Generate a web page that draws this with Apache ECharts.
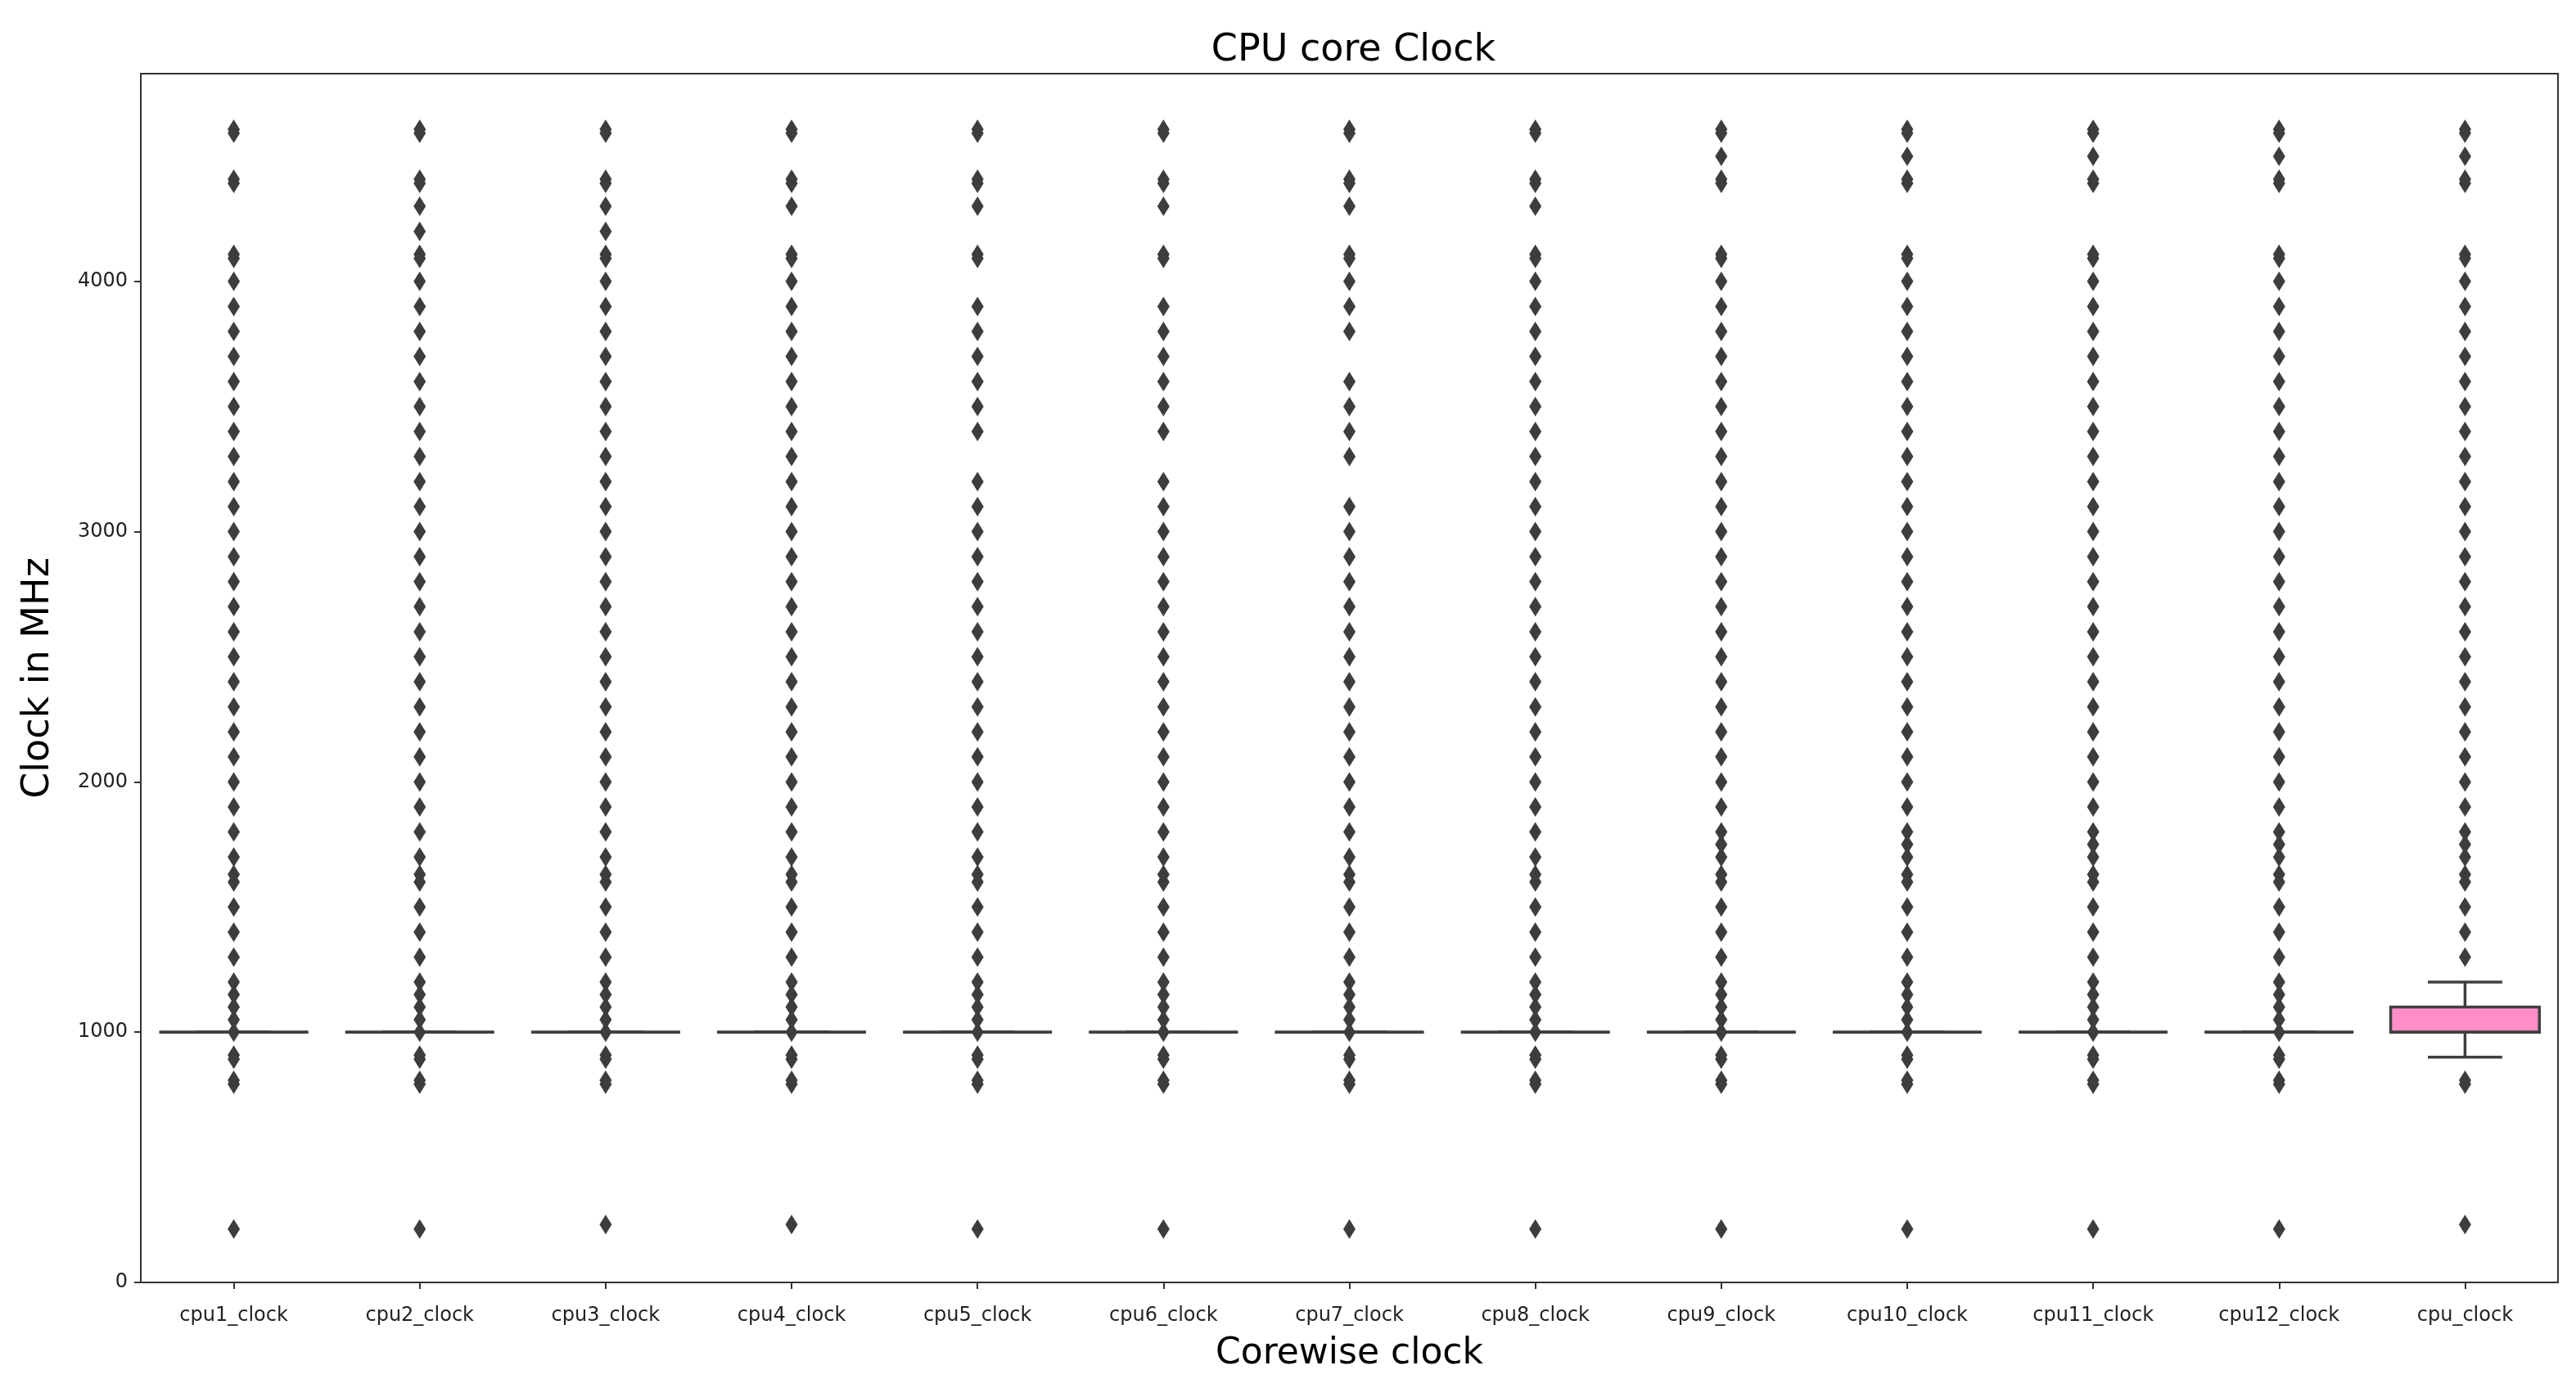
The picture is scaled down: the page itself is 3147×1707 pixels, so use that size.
<!DOCTYPE html>
<html>
<head>
<meta charset="utf-8">
<script src="https://cdn.jsdelivr.net/npm/echarts@6/dist/echarts.min.js"></script>
<style>
html,body{margin:0;padding:0;background:#fff;}
#chart{width:3147px;height:1707px;}
</style>
</head>
<body>
<div id="chart"></div>
<script>
// ---- categories ----
const categories = ['cpu1_clock','cpu2_clock','cpu3_clock','cpu4_clock','cpu5_clock','cpu6_clock','cpu7_clock','cpu8_clock','cpu9_clock','cpu10_clock','cpu11_clock','cpu12_clock','cpu_clock'];

// ---- box statistics: [min, Q1, median, Q3, max] ----
const boxStats = [
  [1000,1000,1000,1000,1000],
  [1000,1000,1000,1000,1000],
  [1000,1000,1000,1000,1000],
  [1000,1000,1000,1000,1000],
  [1000,1000,1000,1000,1000],
  [1000,1000,1000,1000,1000],
  [1000,1000,1000,1000,1000],
  [1000,1000,1000,1000,1000],
  [1000,1000,1000,1000,1000],
  [1000,1000,1000,1000,1000],
  [1000,1000,1000,1000,1000],
  [1000,1000,1000,1000,1000],
  [900,1000,1000,1100,1200]
];

// ---- outliers per category (MHz) ----
const cpu1Outliers = [4608,4592,4408,4392,4108,4092,4000,3900,3800,3700,3600,3500,3400,3300,3200,3100,3000,2900,2800,2700,2600,2500,2400,2300,2200,2100,2000,1900,1800,1700,1630,1600,1500,1400,1300,1200,1150,1100,1050,1000,908,892,808,792,213];
const cpu2Outliers = [4608,4592,4408,4392,4300,4200,4108,4092,4000,3900,3800,3700,3600,3500,3400,3300,3200,3100,3000,2900,2800,2700,2600,2500,2400,2300,2200,2100,2000,1900,1800,1700,1630,1600,1500,1400,1300,1200,1150,1100,1050,1000,908,892,808,792,213];
const cpu3Outliers = [4608,4592,4408,4392,4300,4200,4108,4092,4000,3900,3800,3700,3600,3500,3400,3300,3200,3100,3000,2900,2800,2700,2600,2500,2400,2300,2200,2100,2000,1900,1800,1700,1630,1600,1500,1400,1300,1200,1150,1100,1050,1000,908,892,808,792,231];
const cpu4Outliers = [4608,4592,4408,4392,4300,4108,4092,4000,3900,3800,3700,3600,3500,3400,3300,3200,3100,3000,2900,2800,2700,2600,2500,2400,2300,2200,2100,2000,1900,1800,1700,1630,1600,1500,1400,1300,1200,1150,1100,1050,1000,908,892,808,792,231];
const cpu5Outliers = [4608,4592,4408,4392,4300,4108,4092,3900,3800,3700,3600,3500,3400,3200,3100,3000,2900,2800,2700,2600,2500,2400,2300,2200,2100,2000,1900,1800,1700,1630,1600,1500,1400,1300,1200,1150,1100,1050,1000,908,892,808,792,213];
const cpu6Outliers = [4608,4592,4408,4392,4300,4108,4092,3900,3800,3700,3600,3500,3400,3200,3100,3000,2900,2800,2700,2600,2500,2400,2300,2200,2100,2000,1900,1800,1700,1630,1600,1500,1400,1300,1200,1150,1100,1050,1000,908,892,808,792,213];
const cpu7Outliers = [4608,4592,4408,4392,4300,4108,4092,4000,3900,3800,3600,3500,3400,3300,3100,3000,2900,2800,2700,2600,2500,2400,2300,2200,2100,2000,1900,1800,1700,1630,1600,1500,1400,1300,1200,1150,1100,1050,1000,908,892,808,792,213];
const cpu8Outliers = [4608,4592,4408,4392,4300,4108,4092,4000,3900,3800,3700,3600,3500,3400,3300,3200,3100,3000,2900,2800,2700,2600,2500,2400,2300,2200,2100,2000,1900,1800,1700,1630,1600,1500,1400,1300,1200,1150,1100,1050,1000,908,892,808,792,213];
const cpu9Outliers = [4608,4592,4500,4408,4392,4108,4092,4000,3900,3800,3700,3600,3500,3400,3300,3200,3100,3000,2900,2800,2700,2600,2500,2400,2300,2200,2100,2000,1900,1800,1750,1700,1630,1600,1500,1400,1300,1200,1150,1100,1050,1000,908,892,808,792,213];
const cpu10Outliers = [4608,4592,4500,4408,4392,4108,4092,4000,3900,3800,3700,3600,3500,3400,3300,3200,3100,3000,2900,2800,2700,2600,2500,2400,2300,2200,2100,2000,1900,1800,1750,1700,1630,1600,1500,1400,1300,1200,1150,1100,1050,1000,908,892,808,792,213];
const cpu11Outliers = [4608,4592,4500,4408,4392,4108,4092,4000,3900,3800,3700,3600,3500,3400,3300,3200,3100,3000,2900,2800,2700,2600,2500,2400,2300,2200,2100,2000,1900,1800,1750,1700,1630,1600,1500,1400,1300,1200,1150,1100,1050,1000,908,892,808,792,213];
const cpu12Outliers = [4608,4592,4500,4408,4392,4108,4092,4000,3900,3800,3700,3600,3500,3400,3300,3200,3100,3000,2900,2800,2700,2600,2500,2400,2300,2200,2100,2000,1900,1800,1750,1700,1630,1600,1500,1400,1300,1200,1150,1100,1050,1000,908,892,808,792,213];
const cpuOutliers = [4608,4592,4500,4408,4392,4108,4092,4000,3900,3800,3700,3600,3500,3400,3300,3200,3100,3000,2900,2800,2700,2600,2500,2400,2300,2200,2100,2000,1900,1800,1750,1700,1630,1600,1500,1400,1300,808,792,231];

// ---- y ticks ----
const yTickValues = [0, 1000, 2000, 3000, 4000];

const outlierLists = [cpu1Outliers,cpu2Outliers,cpu3Outliers,cpu4Outliers,cpu5Outliers,cpu6Outliers,cpu7Outliers,cpu8Outliers,cpu9Outliers,cpu10Outliers,cpu11Outliers,cpu12Outliers,cpuOutliers];
const boxColors = ['#3274a1','#e1812c','#3a923a','#c03d3e','#9372b2','#845b53','#d684bd','#7f7f7f','#a9aa35','#2eadb8','#ff8ec8','#b0b0ff','#ff8ec8'];

const scatterData = [];
outlierLists.forEach((arr, i) => arr.forEach(v => scatterData.push([i, v])));
const boxData = boxStats.map((s, i) => [i].concat(s));

const LINE = '#3f3f3f';
const FONT = 'DejaVu Sans';
const GRID = {left: 172, right: 22, top: 90, bottom: 140};
const plotCenterX = GRID.left + (3147 - GRID.left - GRID.right) / 2;

const chart = echarts.init(document.getElementById('chart'), null, {renderer: 'canvas'});
chart.setOption({
  backgroundColor: '#ffffff',
  animation: false,
  title: {
    text: 'CPU core Clock',
    left: plotCenterX,
    textAlign: 'center',
    top: 34,
    textStyle: {fontFamily: FONT, fontSize: 46, fontWeight: 'normal', color: '#000'}
  },
  grid: {
    left: GRID.left, right: GRID.right, top: GRID.top, bottom: GRID.bottom,
    show: true, borderColor: '#333', borderWidth: 2, backgroundColor: 'transparent'
  },
  xAxis: {
    type: 'category',
    data: categories,
    boundaryGap: true,
    name: 'Corewise clock',
    nameLocation: 'middle',
    nameGap: 66,
    nameTextStyle: {fontFamily: FONT, fontSize: 44, color: '#000'},
    axisLine: {show: true, lineStyle: {color: '#333', width: 2}},
    axisTick: {show: true, alignWithLabel: true, length: 8, lineStyle: {color: '#333', width: 2}},
    axisLabel: {fontFamily: FONT, fontSize: 24, color: '#222', margin: 29, interval: 0},
    splitLine: {show: false}
  },
  yAxis: {
    type: 'value',
    min: 0,
    max: 4830,
    interval: 1000,
    name: 'Clock in MHz',
    nameLocation: 'middle',
    nameGap: 102,
    nameTextStyle: {fontFamily: FONT, fontSize: 46, color: '#000'},
    axisLine: {show: true, lineStyle: {color: '#333', width: 2}},
    axisTick: {show: true, length: 8, lineStyle: {color: '#333', width: 2}},
    axisLabel: {
      fontFamily: FONT, fontSize: 24, color: '#222', margin: 16,
      showMaxLabel: false,
      formatter: v => (yTickValues.indexOf(v) >= 0 ? String(v) : '')
    },
    splitLine: {show: false}
  },
  series: [
    {
      type: 'custom',
      z: 2,
      data: boxData,
      encode: {x: 0, y: [1, 2, 3, 4, 5]},
      renderItem: function (params, api) {
        const idx = api.value(0);
        const cx = api.coord([idx, 0])[0];
        const yMin = api.coord([idx, api.value(1)])[1];
        const yQ1 = api.coord([idx, api.value(2)])[1];
        const yMed = api.coord([idx, api.value(3)])[1];
        const yQ3 = api.coord([idx, api.value(4)])[1];
        const yMax = api.coord([idx, api.value(5)])[1];
        const band = api.size([1, 0])[0];
        const bw = band * 0.8;
        const cw = bw * 0.5;
        const ls = {stroke: LINE, lineWidth: 3.5};
        const children = [
          {type: 'line', shape: {x1: cx, y1: yQ3, x2: cx, y2: yMax}, style: ls},
          {type: 'line', shape: {x1: cx, y1: yQ1, x2: cx, y2: yMin}, style: ls},
          {type: 'line', shape: {x1: cx - cw / 2, y1: yMax, x2: cx + cw / 2, y2: yMax}, style: ls},
          {type: 'line', shape: {x1: cx - cw / 2, y1: yMin, x2: cx + cw / 2, y2: yMin}, style: ls},
          {type: 'rect', shape: {x: cx - bw / 2, y: yQ3, width: bw, height: Math.max(yQ1 - yQ3, 0)},
            style: {fill: boxColors[idx], stroke: LINE, lineWidth: 3.5}},
          {type: 'line', shape: {x1: cx - bw / 2, y1: yMed, x2: cx + bw / 2, y2: yMed}, style: ls}
        ];
        return {type: 'group', children: children};
      }
    },
    {
      type: 'scatter',
      z: 3,
      symbol: 'diamond',
      symbolSize: [15, 24],
      itemStyle: {color: '#3d3d3d', opacity: 1},
      data: scatterData
    }
  ]
});
</script>
</body>
</html>
